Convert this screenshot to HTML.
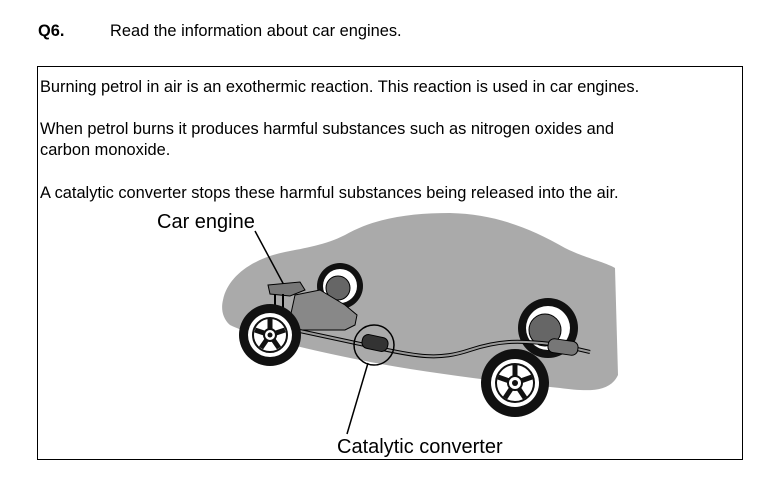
<!DOCTYPE html>
<html><head><style>
body{margin:0;width:774px;height:483px;background:#fff;font-family:"Liberation Sans",Arial,sans-serif;position:relative;overflow:hidden}
.t{position:absolute;font-size:16.4px;color:#000;white-space:nowrap}
</style></head><body>
<div class="t" style="left:38px;top:22px;font-weight:bold">Q6.</div>
<div class="t" style="left:110px;top:22px">Read the information about car engines.</div>
<div style="position:absolute;left:37px;top:66px;width:704px;height:392px;border:1.5px solid #000"></div>
<div class="t" style="left:40px;top:78px">Burning petrol in air is an exothermic reaction. This reaction is used in car engines.</div>
<div class="t" style="left:40px;top:120px">When petrol burns it produces harmful substances such as nitrogen oxides and</div>
<div class="t" style="left:40px;top:141px">carbon monoxide.</div>
<div class="t" style="left:40px;top:184px">A catalytic converter stops these harmful substances being released into the air.</div>
<svg width="774" height="483" style="position:absolute;left:0;top:0">
<path d="M223,300 C228,275 255,258 285,252 C305,248 325,245 345,235 C375,218 410,213 450,213 C495,214 530,228 565,248 C585,258 605,262 615,268 L618,375 C610,392 590,392 560,388 C500,382 420,372 360,360 C300,348 250,335 230,325 C222,318 221,308 223,300Z" fill="#aaa"/>
<g stroke="#000" stroke-width="1.5">
<line x1="255" y1="231" x2="285" y2="287"/>
<line x1="368" y1="363" x2="347" y2="434"/>
</g>
<circle cx="340" cy="286" r="23" fill="#111"/><circle cx="340" cy="286" r="17" fill="#fff"/><circle cx="338" cy="288" r="12" fill="#666" stroke="#000"/>
<circle cx="548" cy="328" r="30" fill="#111"/><circle cx="548" cy="328" r="22" fill="#fff"/><circle cx="545" cy="330" r="16" fill="#666" stroke="#000"/>
<path d="M268,285 L300,282 L305,290 L290,296 L270,294Z" fill="#777" stroke="#000"/>
<path d="M275,294 L275,322 M283,294 L283,322 M300,296 L300,312" stroke="#000" stroke-width="2"/>
<path d="M295,295 L320,290 L345,305 L357,315 L355,325 L345,330 L300,330 L290,318Z" fill="#888" stroke="#000"/>
<path d="M295,330 L365,345 C420,358 440,360 470,350 C500,340 520,340 560,345 L590,352" fill="none" stroke="#000" stroke-width="4"/>
<path d="M295,330 L365,345 C420,358 440,360 470,350 C500,340 520,340 560,345 L590,352" fill="none" stroke="#999" stroke-width="2"/>
<rect x="362" y="336" width="26" height="14" rx="6" fill="#333" stroke="#000" transform="rotate(12 375 343)"/>
<rect x="548" y="340" width="30" height="14" rx="6" fill="#777" stroke="#000" transform="rotate(8 563 347)"/>
<circle cx="374" cy="345" r="20" fill="none" stroke="#000" stroke-width="1.5"/>
<g transform="translate(270,335)"><circle r="31" fill="#111"/><circle r="22" fill="#fff"/><circle r="17" fill="none" stroke="#111" stroke-width="2"/>
<g stroke="#111" stroke-width="5"><line x1="0" y1="0" x2="0" y2="-16"/><line x1="0" y1="0" x2="15" y2="-5"/><line x1="0" y1="0" x2="9" y2="13"/><line x1="0" y1="0" x2="-9" y2="13"/><line x1="0" y1="0" x2="-15" y2="-5"/></g><circle r="6" fill="#fff" stroke="#111" stroke-width="2"/><circle r="2.5" fill="#111"/></g>
<g transform="translate(515,383)"><circle r="34" fill="#111"/><circle r="24" fill="#fff"/><circle r="19" fill="none" stroke="#111" stroke-width="2"/>
<g stroke="#111" stroke-width="5"><line x1="0" y1="0" x2="0" y2="-18"/><line x1="0" y1="0" x2="17" y2="-6"/><line x1="0" y1="0" x2="10" y2="15"/><line x1="0" y1="0" x2="-10" y2="15"/><line x1="0" y1="0" x2="-17" y2="-6"/></g><circle r="7" fill="#fff" stroke="#111" stroke-width="2"/><circle r="3" fill="#111"/></g>
<text x="157" y="228" font-family="Liberation Sans,Arial,sans-serif" font-size="20">Car engine</text>
<text x="337" y="453" font-family="Liberation Sans,Arial,sans-serif" font-size="20">Catalytic converter</text>
</svg>
</body></html>
